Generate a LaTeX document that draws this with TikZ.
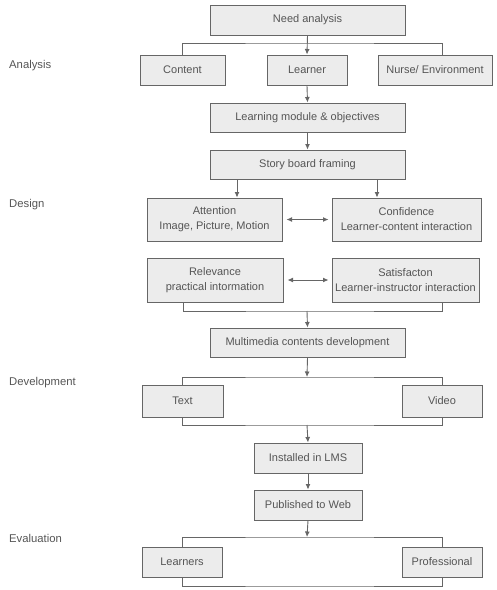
\documentclass[tikz,border=0pt]{standalone}
\usepackage{fontspec}
\setmainfont{Liberation Sans}
\usetikzlibrary{arrows.meta}
\definecolor{txt}{HTML}{555555}
\definecolor{ln}{HTML}{666666}
\definecolor{bx}{HTML}{ECECEC}
\begin{document}
\begin{tikzpicture}[x=1pt,y=-1pt,
  box/.style={draw=ln, fill=bx, line width=1pt, inner sep=0pt, align=center, text=txt,
    font=\fontsize{11}{15}\selectfont},
  lbl/.style={anchor=west, inner sep=0pt, text=txt, font=\fontsize{11.3}{14}\selectfont},
  con/.style={draw=ln, line width=0.9pt},
  arr/.style={con, -{Latex[length=5.5pt,width=5pt]}},
  darr/.style={con, {Latex[length=5.5pt,width=5pt]}-{Latex[length=5.5pt,width=5pt]}, shorten <=4pt, shorten >=3pt}]
\useasboundingbox (0,0) rectangle (497,590);
% phase labels
\node[lbl] (lA) at (9,66) {Analysis};
\node[lbl] (lD) at (9,205) {Design};
\node[lbl] (lV) at (9,383) {Development};
\node[lbl] (lE) at (9,538) {Evaluation};
% boxes
\node[box, minimum width=195, minimum height=30] (need) at (307.5,20) {Need analysis};
\node[box, minimum width=85, minimum height=30] (content) at (182.5,70) {Content};
\node[box, minimum width=80, minimum height=30] (learner) at (307,70) {Learner};
\node[box, minimum width=114, minimum height=30] (nurse) at (435,70) {Nurse/ Environment};
\node[box, minimum width=195, minimum height=29] (module) at (307.5,117.5) {Learning module \& objectives};
\node[box, minimum width=195, minimum height=29] (story) at (307.5,164.5) {Story board framing};
\node[box, minimum width=135, minimum height=43] (att) at (214.5,219.5) {Attention\\Image, Picture, Motion};
\node[box, minimum width=149, minimum height=43] (conf) at (406.5,219.5) {Confidence\\Learner-content interaction};
\node[box, minimum width=136, minimum height=44] (rel) at (215,280) {Relevance\\practical intormation};
\node[box, minimum width=147, minimum height=44] (sat) at (405.5,280) {Satisfacton\\Learner-instructor interaction};
\node[box, minimum width=195, minimum height=29] (mm) at (307.5,342.5) {Multimedia contents development};
\node[box, minimum width=81, minimum height=32] (text) at (182.5,401) {Text};
\node[box, minimum width=80, minimum height=32] (video) at (442,401) {Video};
\node[box, minimum width=108, minimum height=30] (lms) at (308,458) {Installed in LMS};
\node[box, minimum width=108, minimum height=30] (web) at (308,505) {Published to Web};
\node[box, minimum width=80, minimum height=30] (lrn) at (182,562) {Learners};
\node[box, minimum width=80, minimum height=30] (prof) at (442,562) {Professional};
% helper coordinates
\coordinate (L) at (183,0);
\coordinate (R) at (442,0);
\coordinate (a1) at (237,0);
\coordinate (a2) at (377,0);
\coordinate (j1) at (307,43);
\coordinate (j2) at (307,311);
\coordinate (j3) at (307,377);
\coordinate (j4) at (307,425);
\coordinate (j5) at (307,537);
\coordinate (j6) at (307,586);
% connectors
\draw[con] (content.north) |- (j1) -| (nurse.north -| R);
\draw[arr] (need.south) -- (learner.north);
\draw[arr] (learner.south) -- (module.north);
\draw[arr] (module.south) -- (story.north);
\draw[arr] (story.south -| a1) -- (att.north -| a1);
\draw[arr] (story.south -| a2) -- (conf.north -| a2);
\draw[darr] (att.east) -- (conf.west);
\draw[darr] (rel.east) -- (sat.west);
\draw[con] (rel.south -| L) |- (j2) -| (sat.south -| R);
\draw[arr] (j2) -- (mm.north);
\draw[arr] (mm.south) -- (j3);
\draw[con] (text.north) |- (j3) -| (video.north);
\draw[con] (text.south) |- (j4) -| (video.south);
\draw[arr] (j4) -- (lms.north);
\draw[arr] (lms.south) -- (web.north);
\draw[arr] (web.south) -- (j5);
\draw[con] (lrn.north) |- (j5) -| (prof.north);
\draw[con] (lrn.south) |- (j6) -| (prof.south);
\end{tikzpicture}
\end{document}
